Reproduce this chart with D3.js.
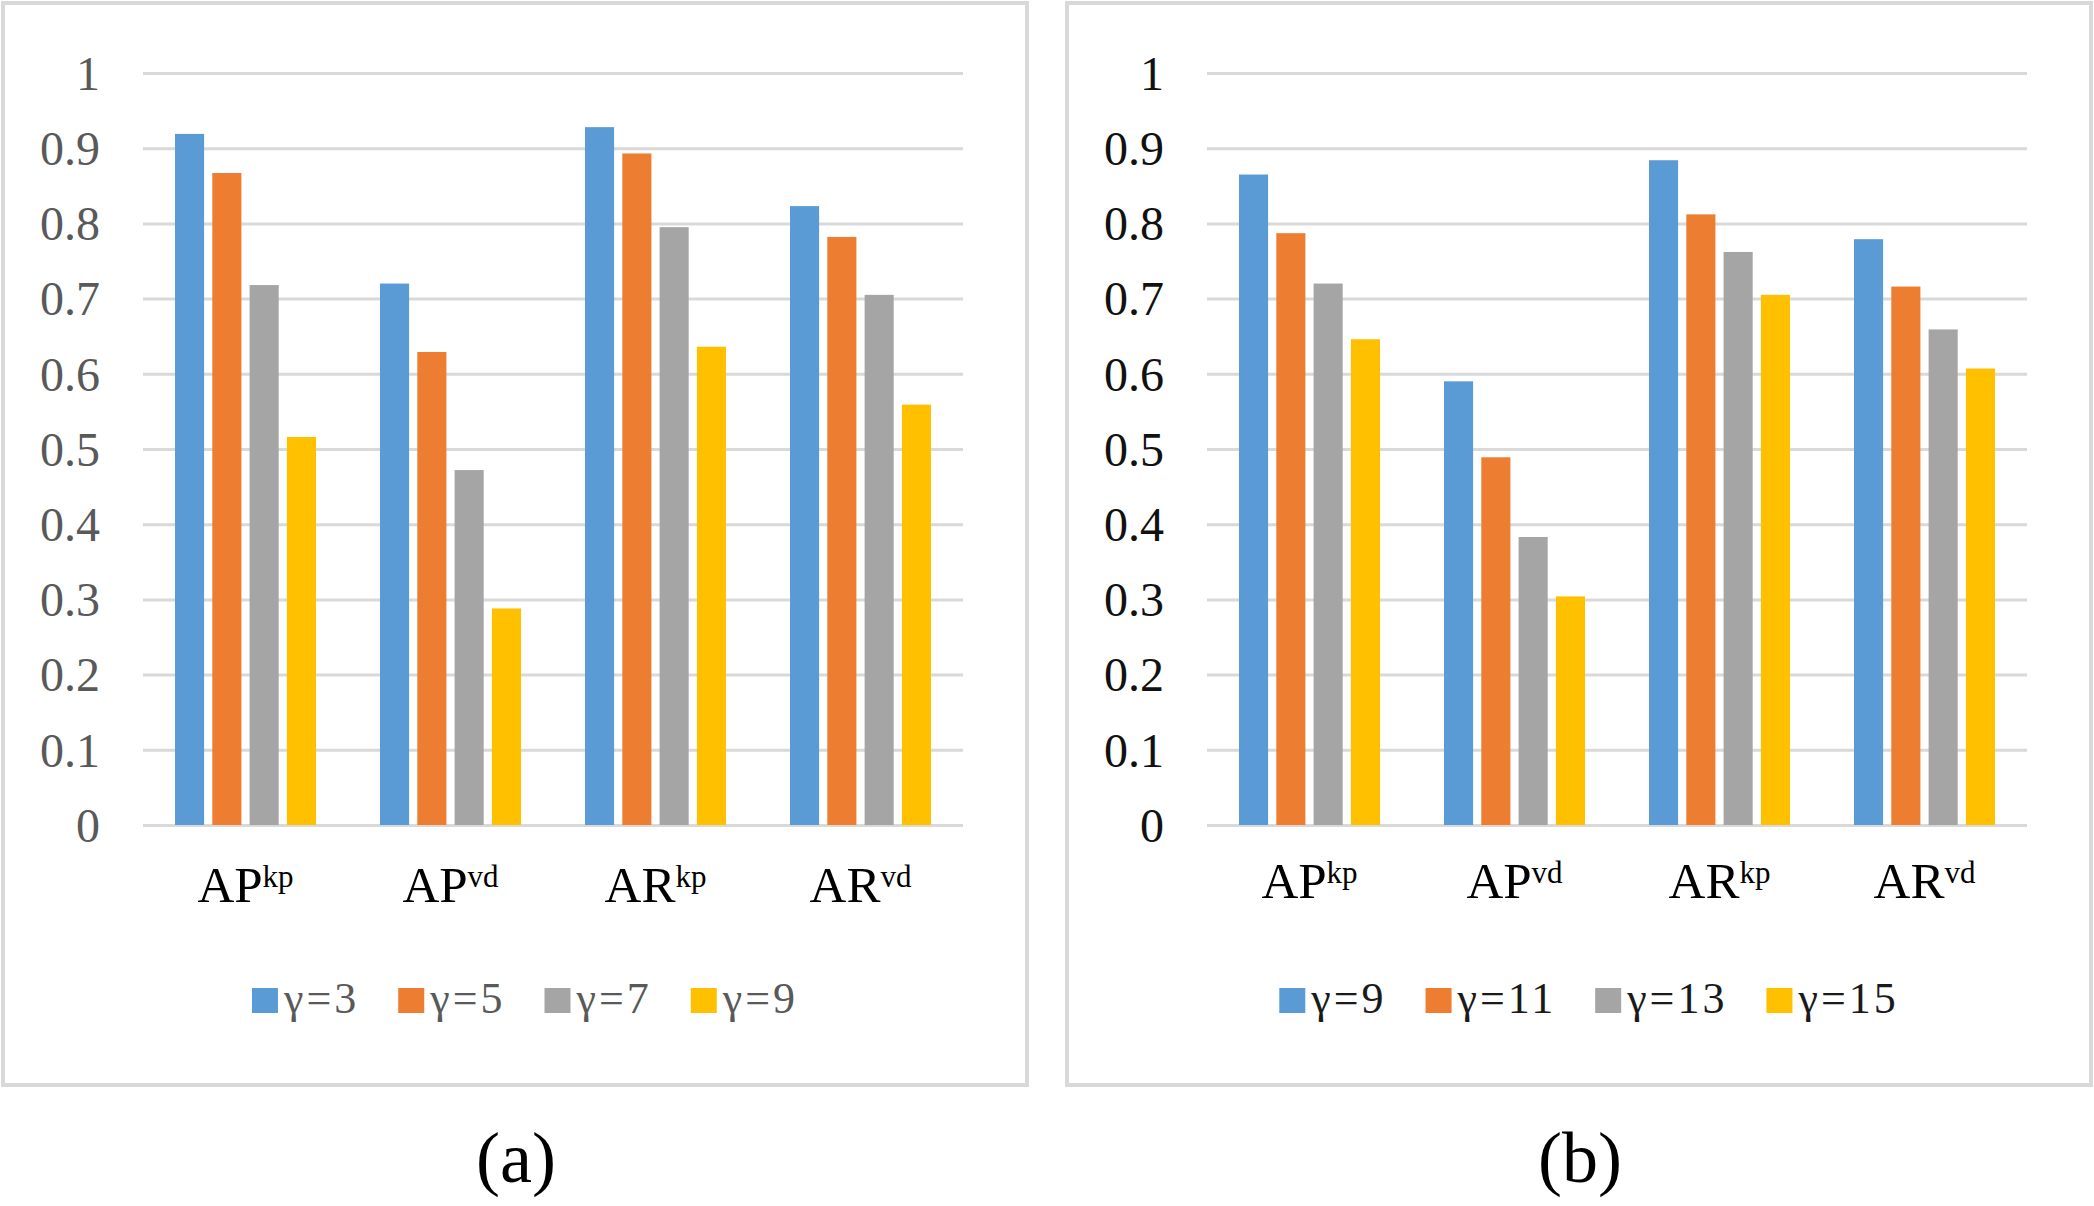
<!DOCTYPE html>
<html>
<head>
<meta charset="utf-8">
<title>gamma comparison</title>
<script src="https://d3js.org/d3.v7.min.js"></script>
<style>
body { margin: 0; background: #fff; }
</style>
</head>
<body>
<script>
// categories (base text + superscript)
var catBase = ["AP", "AP", "AR", "AR"];
var catSup = ["kp", "vd", "kp", "vd"];
var colors = ["#5b9bd5", "#ed7d31", "#a5a5a5", "#ffc000"];
var yTicks = [0, 0.1, 0.2, 0.3, 0.4, 0.5, 0.6, 0.7, 0.8, 0.9, 1];
var yTickLabels = ["0", "0.1", "0.2", "0.3", "0.4", "0.5", "0.6", "0.7", "0.8", "0.9", "1"];

// panel (a)
var seriesA = ["γ=3", "γ=5", "γ=7", "γ=9"];
var valuesA = [
  [0.919, 0.867, 0.718, 0.516],
  [0.720, 0.629, 0.472, 0.288],
  [0.928, 0.893, 0.795, 0.636],
  [0.823, 0.782, 0.705, 0.559]
];
// panel (b)
var seriesB = ["γ=9", "γ=11", "γ=13", "γ=15"];
var valuesB = [
  [0.865, 0.787, 0.720, 0.646],
  [0.590, 0.489, 0.383, 0.304],
  [0.884, 0.812, 0.762, 0.705],
  [0.779, 0.716, 0.659, 0.607]
];

var serif = '"Liberation Serif", "Times New Roman", Times, serif';
var width = 2094, height = 1206;
var svg = d3.select("body").append("svg")
  .attr("width", width)
  .attr("height", height);
svg.append("rect").attr("width", width).attr("height", height).attr("fill", "#fff");

function drawPanel(dx, series, values, caption, tickColor, legendColor, catY) {
  var g = svg.append("g").attr("transform", "translate(" + dx + ",0)");

  // frame
  g.append("rect")
    .attr("x", 3).attr("y", 3)
    .attr("width", 1024).attr("height", 1082)
    .attr("fill", "none")
    .attr("stroke", "#d9d9d9")
    .attr("stroke-width", 4);

  var x0 = d3.scaleBand().domain(d3.range(catBase.length)).range([143, 963]);
  var x1 = d3.scaleBand().domain(series).range([32, 173]).paddingInner(0.22);
  var y = d3.scaleLinear().domain([0, 1]).range([825, 73]);

  // gridlines + tick labels
  var ax = g.append("g")
    .attr("transform", "translate(143,0)")
    .call(d3.axisLeft(y)
      .tickValues(yTicks)
      .tickSize(-820)
      .tickPadding(43)
      .tickFormat(function(d, i) { return yTickLabels[i]; }));
  ax.select(".domain").remove();
  ax.selectAll(".tick line").attr("stroke", "#d9d9d9").attr("stroke-width", 3);
  ax.selectAll(".tick text")
    .attr("fill", tickColor)
    .style("font-size", "48px")
    .style("font-family", serif)
    .attr("dy", "0.34em");

  // bars
  var groups = g.selectAll("g.cat")
    .data(values)
    .enter().append("g")
    .attr("class", "cat")
    .attr("transform", function(d, i) { return "translate(" + x0(i) + ",0)"; });
  groups.selectAll("rect")
    .data(function(d) { return d.map(function(v, j) { return {v: v, s: series[j], j: j}; }); })
    .enter().append("rect")
    .attr("x", function(d) { return x1(d.s); })
    .attr("width", x1.bandwidth())
    .attr("y", function(d) { return y(d.v); })
    .attr("height", function(d) { return y(0) - y(d.v); })
    .attr("fill", function(d) { return colors[d.j]; });

  // category labels with superscripts
  var cl = g.selectAll("text.cat")
    .data(catBase)
    .enter().append("text")
    .attr("class", "cat")
    .attr("x", function(d, i) { return x0(i) + x0.bandwidth() / 2; })
    .attr("y", catY)
    .attr("text-anchor", "middle")
    .attr("fill", "#000")
    .style("font-family", serif)
    .style("font-size", "51px");
  cl.append("tspan").text(function(d) { return d; });
  cl.append("tspan")
    .attr("dy", -15)
    .style("font-size", "31px")
    .text(function(d, i) { return catSup[i]; });

  // legend, centred
  var lg = g.append("g");
  var items = lg.selectAll("g")
    .data(series)
    .enter().append("g");
  items.append("rect")
    .attr("width", 26).attr("height", 25)
    .attr("y", 988)
    .attr("fill", function(d, i) { return colors[i]; });
  items.append("text")
    .attr("x", 32)
    .attr("y", 1013)
    .attr("fill", legendColor)
    .style("font-family", serif)
    .style("font-size", "44px")
    .style("letter-spacing", "3px")
    .text(function(d) { return d; });
  var pos = 0;
  items.each(function() {
    var w = d3.select(this).select("text").node().getComputedTextLength();
    d3.select(this).attr("transform", "translate(" + pos + ",0)");
    pos += 32 + w + 39;
  });
  var total = pos - 39;
  lg.attr("transform", "translate(" + (525 - total / 2) + ",0)");

  // caption
  g.append("text")
    .attr("x", 516)
    .attr("y", 1182)
    .attr("text-anchor", "middle")
    .style("font-family", serif)
    .style("font-size", "72px")
    .attr("fill", "#000")
    .text(caption);
}

drawPanel(0, seriesA, valuesA, "(a)", "#595959", "#595959", 902);
drawPanel(1064, seriesB, valuesB, "(b)", "#111", "#1a1a1a", 898);
</script>
</body>
</html>
